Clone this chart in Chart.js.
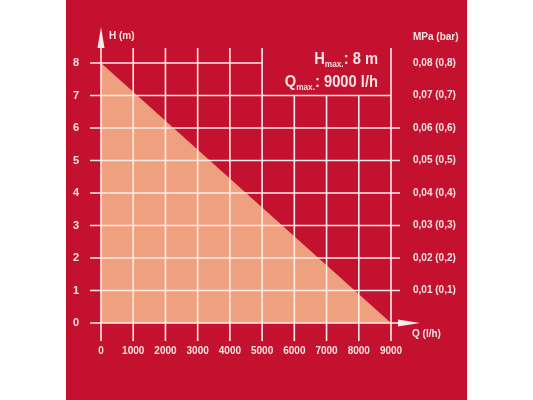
<!DOCTYPE html>
<html>
<head>
<meta charset="utf-8">
<script src="https://cdn.jsdelivr.net/npm/chart.js@4.4.1/dist/chart.umd.min.js"></script>
<style>
  html, body { margin: 0; padding: 0; background: #ffffff; }
  #wrap { width: 533px; height: 400px; }
</style>
</head>
<body>
<div id="wrap"><canvas id="pump" width="533" height="400"></canvas></div>
<script>
// pump curve: flow rate Q (l/h) against delivery head H (m)
const flowRate = [0, 9000];
const headHeight = [8, 0];

const flowTicks = [0, 1000, 2000, 3000, 4000, 5000, 6000, 7000, 8000, 9000];
const headTicks = [0, 1, 2, 3, 4, 5, 6, 7, 8];
const pressureLabels = ["", "0,01 (0,1)", "0,02 (0,2)", "0,03 (0,3)", "0,04 (0,4)",
  "0,05 (0,5)", "0,06 (0,6)", "0,07 (0,7)", "0,08 (0,8)"];

const maxHeadText = ": 8 m";
const maxFlowText = ": 9000 l/h";

const RED = "#c3112f";
const SALMON = "#efa07e";
const LINE = "#fbece8";
const TEXT = "#f8e2e2";
const FONT = "'Liberation Sans', Arial, sans-serif";

const points = flowRate.map((q, i) => ({ x: q, y: headHeight[i] }));

// red panel behind the chart
const panel = {
  id: "panel",
  beforeDraw(chart) {
    const c = chart.ctx;
    c.save();
    c.fillStyle = RED;
    c.fillRect(66, 0, 401, chart.height);
    c.restore();
  },
};

// the grid sits on top of the filled area and has uneven lengths
const grid = {
  id: "grid",
  afterDatasetsDraw(chart) {
    const c = chart.ctx;
    const xs = chart.scales.x;
    const ys = chart.scales.y;
    const x0 = xs.getPixelForValue(0);
    const x5 = xs.getPixelForValue(5000);
    const x9 = xs.getPixelForValue(9000);
    const y0 = ys.getPixelForValue(0);
    const y7 = ys.getPixelForValue(7);
    const y8 = ys.getPixelForValue(8);

    c.save();
    c.strokeStyle = LINE;
    c.fillStyle = LINE;
    c.lineWidth = 1.6;

    headTicks.forEach((v) => {
      const y = ys.getPixelForValue(v);
      let end = x9 + 9;
      if (v === 8) end = x5;
      if (v === 7) end = x9;
      if (v === 0) end = x9 + 8;
      c.beginPath();
      c.moveTo(x0 - 11, y);
      c.lineTo(end, y);
      c.stroke();
    });

    flowTicks.forEach((v) => {
      const x = xs.getPixelForValue(v);
      let top = y8 - 15;
      if (v > 5000 && v < 9000) top = y7;
      c.beginPath();
      c.moveTo(x, y0 + 18);
      c.lineTo(x, top);
      c.stroke();
    });

    // arrow heads
    c.beginPath();
    c.moveTo(x0 - 3.5, y8 - 15);
    c.lineTo(x0 + 3.5, y8 - 15);
    c.lineTo(x0, y8 - 36);
    c.closePath();
    c.fill();

    c.beginPath();
    c.moveTo(x9 + 7, y0 - 3.5);
    c.lineTo(x9 + 7, y0 + 3.5);
    c.lineTo(x9 + 29, y0);
    c.closePath();
    c.fill();

    c.restore();
  },
  afterDraw(chart) {
    const c = chart.ctx;
    const xs = chart.scales.x;
    const ys = chart.scales.y;
    const x0 = xs.getPixelForValue(0);
    const x9 = xs.getPixelForValue(9000);
    const y0 = ys.getPixelForValue(0);
    const y8 = ys.getPixelForValue(8);

    c.save();
    c.fillStyle = TEXT;
    c.textBaseline = "middle";
    c.textAlign = "left";
    c.font = "bold 10px " + FONT;
    c.fillText("H (m)", x0 + 8, y8 - 27);
    c.fillText("MPa (bar)", x9 + 22, y8 - 26);
    c.fillText("Q (l/h)", x9 + 21, y0 + 11);

    // max values box, slightly condensed like the print font
    const right = 378;
    const sx = 0.92;
    function maxLine(letter, rest, base) {
      c.textBaseline = "alphabetic";
      c.font = "bold 16px " + FONT;
      const wRest = c.measureText(rest).width * sx;
      const wLetter = c.measureText(letter).width * sx;
      c.font = "bold 9px " + FONT;
      const wSub = c.measureText("max.").width * sx;
      let x = right - wRest - wSub - wLetter;
      c.save();
      c.translate(x, base);
      c.scale(sx, 1);
      c.font = "bold 16px " + FONT;
      c.fillText(letter, 0, 0);
      let dx = wLetter / sx;
      c.font = "bold 9px " + FONT;
      c.fillText("max.", dx, 3);
      dx += wSub / sx;
      c.font = "bold 16px " + FONT;
      c.fillText(rest, dx, 0);
      c.restore();
    }
    maxLine("H", maxHeadText, y8 + 1);
    maxLine("Q", maxFlowText, y8 + 23.5);
    c.restore();
  },
};

new Chart(document.getElementById("pump"), {
  type: "line",
  data: {
    datasets: [
      {
        data: points,
        fill: "origin",
        backgroundColor: SALMON,
        borderWidth: 0,
        pointRadius: 0,
        tension: 0,
      },
    ],
  },
  options: {
    responsive: false,
    animation: false,
    layout: { padding: { top: 63, left: 0, right: 0, bottom: 0 } },
    plugins: {
      legend: { display: false },
      tooltip: { enabled: false },
    },
    scales: {
      x: {
        type: "linear",
        min: 0,
        max: 9000,
        afterBuildTicks: (s) => { s.ticks = flowTicks.map((v) => ({ value: v })); },
        afterFit: (s) => { s.height = 77; },
        grid: { display: false, drawTicks: false },
        border: { display: false },
        ticks: {
          autoSkip: false,
          maxRotation: 0,
          padding: 22,
          color: TEXT,
          font: { family: FONT, size: 10, weight: "bold" },
          callback: (v) => String(v),
        },
      },
      y: {
        type: "linear",
        position: "left",
        min: 0,
        max: 8,
        afterBuildTicks: (s) => { s.ticks = headTicks.map((v) => ({ value: v })); },
        afterFit: (s) => { s.width = 101; },
        grid: { display: false, drawTicks: false },
        border: { display: false },
        ticks: {
          padding: 22,
          color: TEXT,
          font: { family: FONT, size: 11, weight: "bold" },
          callback: (v) => String(v),
        },
      },
      y2: {
        type: "linear",
        position: "right",
        min: 0,
        max: 8,
        afterBuildTicks: (s) => { s.ticks = headTicks.map((v) => ({ value: v })); },
        afterFit: (s) => { s.width = 142; },
        grid: { display: false, drawTicks: false },
        border: { display: false },
        ticks: {
          padding: 22,
          color: TEXT,
          font: { family: FONT, size: 10, weight: "bold" },
          callback: (v, i) => pressureLabels[i],
        },
      },
    },
  },
  plugins: [panel, grid],
});
</script>
</body>
</html>
